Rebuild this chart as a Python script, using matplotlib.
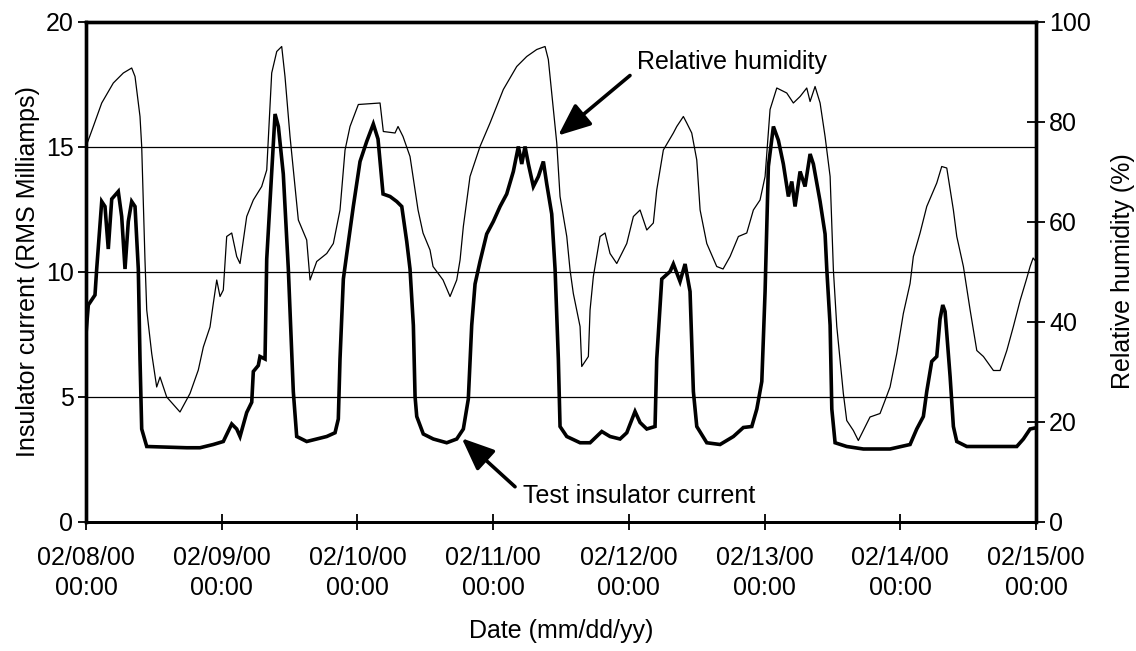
import matplotlib
matplotlib.use("Agg")
import matplotlib.pyplot as plt
import numpy as np

plt.rcParams['font.family'] = ['Liberation Sans', 'DejaVu Sans']

# Hours elapsed since 02/08/00 00:00 and relative humidity (%)
rh_hours = [0.0, 1.29, 2.78, 4.83, 6.60, 8.08, 8.67, 9.55, 9.85, 10.43, 10.74, 11.62,
            12.50, 13.09, 14.27, 16.62, 18.39, 19.86, 20.75, 21.93, 22.51, 23.12, 23.70,
            24.28, 24.88, 25.77, 26.65, 27.24, 28.42, 29.59, 31.07, 31.96, 32.84, 33.73,
            34.61, 35.19, 36.08, 37.55, 39.03, 39.62, 40.80, 42.57, 43.74, 44.92, 45.81,
            46.69, 48.16, 52.00, 52.58, 54.65, 55.18, 56.06, 57.30, 57.83, 58.72, 59.60,
            60.84, 61.37, 63.14, 64.38, 65.56, 66.15, 66.73, 67.91, 69.68, 71.45, 73.80,
            76.17, 77.94, 79.71, 81.18, 81.76, 82.36, 83.25, 83.83, 85.02, 85.60, 86.18,
            87.37, 87.67, 88.84, 89.14, 89.72, 90.91, 91.79, 92.67, 93.86, 95.63, 96.80,
            97.98, 99.17, 100.33, 100.93, 102.10, 103.87, 104.47, 105.64, 106.24, 107.12,
            108.01, 108.60, 109.78, 111.54, 112.66, 113.90, 115.37, 116.85, 118.02, 119.20,
            120.09, 120.97, 122.16, 123.92, 125.09, 126.28, 127.46, 128.05, 128.93, 129.82,
            130.70, 131.59, 132.17, 132.77, 133.93, 134.53, 135.70, 136.58, 137.47, 138.65,
            140.42, 141.30, 142.19, 143.38, 144.54, 145.73, 146.31, 147.50, 148.68, 150.45,
            151.33, 152.22, 153.39, 153.99, 155.16, 156.35, 157.53, 158.70, 160.47, 161.65,
            162.84, 164.00, 165.19, 166.25, 166.96, 167.49, 168.0]
rh_values = [75.0, 79.0, 83.7, 87.7, 89.7, 90.7, 89.0, 81.0, 75.0, 52.3, 42.3, 33.6,
             26.9, 28.9, 24.9, 21.9, 25.6, 30.3, 34.9, 38.9, 43.6, 48.3, 45.0,
             46.3, 57.0, 57.7, 53.0, 51.6, 61.0, 64.3, 67.0, 70.3, 89.7, 94.0,
             95.0, 89.0, 77.0, 60.3, 56.3, 48.3, 52.0, 53.6, 55.6, 62.3, 74.3,
             79.0, 83.4, 83.7, 78.0, 77.7, 79.0, 77.0, 73.0, 69.0, 62.3, 57.7,
             54.3, 51.0, 48.3, 45.0, 48.3, 52.3, 59.0, 69.0, 75.0, 79.7, 86.4,
             91.0, 93.0, 94.4, 95.0, 92.4, 85.7, 75.7, 65.0, 57.0, 50.3, 45.6,
             39.0, 31.0, 33.0, 42.3, 49.0, 57.0, 57.7, 53.6, 51.6, 55.6, 61.0,
             62.3, 58.3, 59.7, 66.3, 74.3, 77.7, 79.0, 81.0, 79.7, 77.7,
             72.3, 62.3, 55.6, 51.0, 50.5, 53.0, 57.0, 57.7, 62.3, 64.3,
             69.0, 82.4, 86.7, 85.7, 83.7, 85.0, 86.7, 84.0, 87.0, 83.7,
             77.0, 69.0, 50.3, 39.0, 25.6, 20.2, 18.2, 16.2, 18.2, 20.9,
             21.6, 24.2, 26.9, 33.6, 41.6, 47.6, 53.0, 57.7, 63.0, 67.7,
             71.0, 70.7, 62.3, 57.0, 51.0, 42.3, 34.2, 33.0, 30.2, 30.2,
             34.2, 39.0, 44.2, 48.2, 51.0, 52.7, 52.0]

# Hours elapsed since 02/08/00 00:00 and test insulator current (RMS mA)
cur_hours = [0.0, 0.41, 1.59, 1.89, 2.78, 3.36, 3.94, 4.55, 5.71, 6.31, 6.90, 7.48,
             8.08, 8.67, 9.25, 9.55, 9.85, 10.74, 17.81, 20.16, 22.51, 24.28, 25.77,
             26.65, 27.24, 28.42, 29.31, 29.59, 30.47, 30.77, 31.66, 31.96, 33.43, 34.02,
             34.89, 35.78, 36.66, 37.26, 39.03, 42.57, 44.04, 44.62, 44.92, 45.51, 46.11,
             47.27, 48.46, 49.64, 50.81, 51.64, 52.53, 53.77, 54.95, 55.84, 56.72, 57.30,
             57.89, 58.19, 58.49, 59.65, 61.42, 63.79, 65.56, 66.73, 67.61, 68.21, 68.80,
             69.68, 70.86, 72.03, 73.22, 74.40, 75.57, 76.46, 77.06, 77.64, 78.23, 79.11,
             80.00, 80.88, 81.48, 82.36, 82.95, 83.53, 83.83, 85.02, 87.37, 89.14, 91.21,
             92.67, 94.44, 95.63, 97.09, 97.98, 99.17, 100.63, 100.93, 101.82, 103.29,
             103.87, 105.05, 105.94, 106.82, 107.41, 108.01, 109.78, 112.13, 114.49,
             116.25, 117.74, 118.63, 119.51, 120.09, 120.67, 121.56, 122.44, 123.32,
             124.21, 124.81, 125.39, 126.28, 127.16, 128.05, 128.63, 129.82, 130.70,
             131.00, 131.59, 131.89, 132.47, 134.53, 137.47, 142.19, 145.73, 146.91,
             148.08, 148.68, 149.56, 150.45, 151.03, 151.51, 151.92, 152.81, 153.39,
             153.99, 155.76, 159.88, 164.60, 165.77, 166.96, 168.0]
cur_values = [7.5, 8.66, 9.06, 10.1, 12.8, 12.6, 10.9, 12.9, 13.2, 12.2, 10.1, 12.0,
              12.8, 12.6, 10.1, 6.5, 3.7, 3.0, 2.95, 2.95, 3.08, 3.2, 3.9,
              3.7, 3.4, 4.36, 4.77, 6.0, 6.24, 6.6, 6.5, 10.5, 16.3, 15.8,
              13.9, 10.1, 5.2, 3.4, 3.2, 3.4, 3.55, 4.1, 6.5, 9.7, 10.7,
              12.6, 14.4, 15.2, 15.9, 15.3, 13.1, 13.0, 12.8, 12.6, 11.2, 10.1,
              7.85, 5.0, 4.2, 3.5, 3.3, 3.15, 3.3, 3.7, 4.9, 7.85, 9.5,
              10.4, 11.5, 12.0, 12.6, 13.1, 14.0, 15.0, 14.3, 15.0, 14.3, 13.4,
              13.8, 14.4, 13.5, 12.3, 10.1, 6.5, 3.8, 3.4, 3.15, 3.15, 3.6,
              3.4, 3.3, 3.55, 4.4, 3.96, 3.7, 3.8, 6.5, 9.7, 10.0,
              10.3, 9.6, 10.3, 9.2, 5.2, 3.8, 3.15, 3.08, 3.4,
              3.76, 3.8, 4.5, 5.6, 9.2, 14.2, 15.8, 15.25, 14.3,
              13.0, 13.6, 12.6, 14.0, 13.4, 14.7, 14.3, 12.8, 11.5,
              10.1, 7.85, 4.5, 3.15, 3.0, 2.9, 2.9, 3.08, 3.7,
              4.2, 5.2, 6.4, 6.6, 8.1, 8.66, 8.4, 5.8, 3.8,
              3.2, 3.0, 3.0, 3.0, 3.3, 3.7, 3.75]

day_ticks = [0, 24, 48, 72, 96, 120, 144, 168]
day_labels = ["02/08/00\n00:00", "02/09/00\n00:00", "02/10/00\n00:00", "02/11/00\n00:00",
              "02/12/00\n00:00", "02/13/00\n00:00", "02/14/00\n00:00", "02/15/00\n00:00"]
cur_ticks = [0, 5, 10, 15, 20]
rh_ticks = [0, 20, 40, 60, 80, 100]

FS = 18

fig = plt.figure(figsize=(11.36, 6.51), dpi=100)
ax = fig.add_axes([86 / 1136, 1 - 521.5 / 651, 950 / 1136, 500 / 651])
ax2 = ax.twinx()

# horizontal reference lines on the current scale
for v in cur_ticks[1:-1]:
    ax.axhline(v, color='black', lw=0.9, zorder=1)

ax.plot(cur_hours, cur_values, color='black', lw=2.6, solid_joinstyle='miter', zorder=3)
ax2.plot(rh_hours, rh_values, color='black', lw=0.9, zorder=3)

ax.set_xlim(0, 168)
ax.set_ylim(0, 20)
ax2.set_ylim(0, 100)

ax.set_xticks(day_ticks)
ax.set_xticklabels(day_labels, fontsize=FS, linespacing=1.32)
ax.set_yticks(cur_ticks)
ax.set_yticklabels([str(v) for v in cur_ticks], fontsize=FS)
ax2.set_yticks(rh_ticks)
ax2.set_yticklabels([str(v) for v in rh_ticks], fontsize=FS)

ax.tick_params(axis='x', direction='inout', length=11, width=1.3, pad=12)
ax.tick_params(axis='y', direction='out', length=6, width=1.3, pad=3)
ax2.tick_params(axis='y', direction='inout', length=13, width=1.3, pad=3)

for a in (ax, ax2):
    for side in ('left', 'right', 'top'):
        a.spines[side].set_linewidth(2.4)
    a.spines['bottom'].set_linewidth(2.0)

ax.set_xlabel("Date (mm/dd/yy)", fontsize=FS, labelpad=14)
ax.set_ylabel("Insulator current (RMS Milliamps)", fontsize=FS, labelpad=4)
ax2.set_ylabel("Relative humidity (%)", fontsize=FS, labelpad=14)

arrow = dict(arrowstyle='-|>,head_length=0.9,head_width=0.38', lw=2.6,
             color='black', mutation_scale=22, shrinkA=0, shrinkB=0)
ax2.annotate("", xy=(83.5, 77.2), xytext=(96.2, 89.2), arrowprops=arrow, zorder=5)
ax2.text(97.4, 91.8, "Relative humidity", fontsize=FS, va='center', ha='left')

ax.annotate("", xy=(66.45, 3.33), xytext=(75.87, 1.39), arrowprops=arrow, zorder=5)
ax.text(77.34, 1.02, "Test insulator current", fontsize=FS, va='center', ha='left')

fig.savefig("out.png", dpi=100)
